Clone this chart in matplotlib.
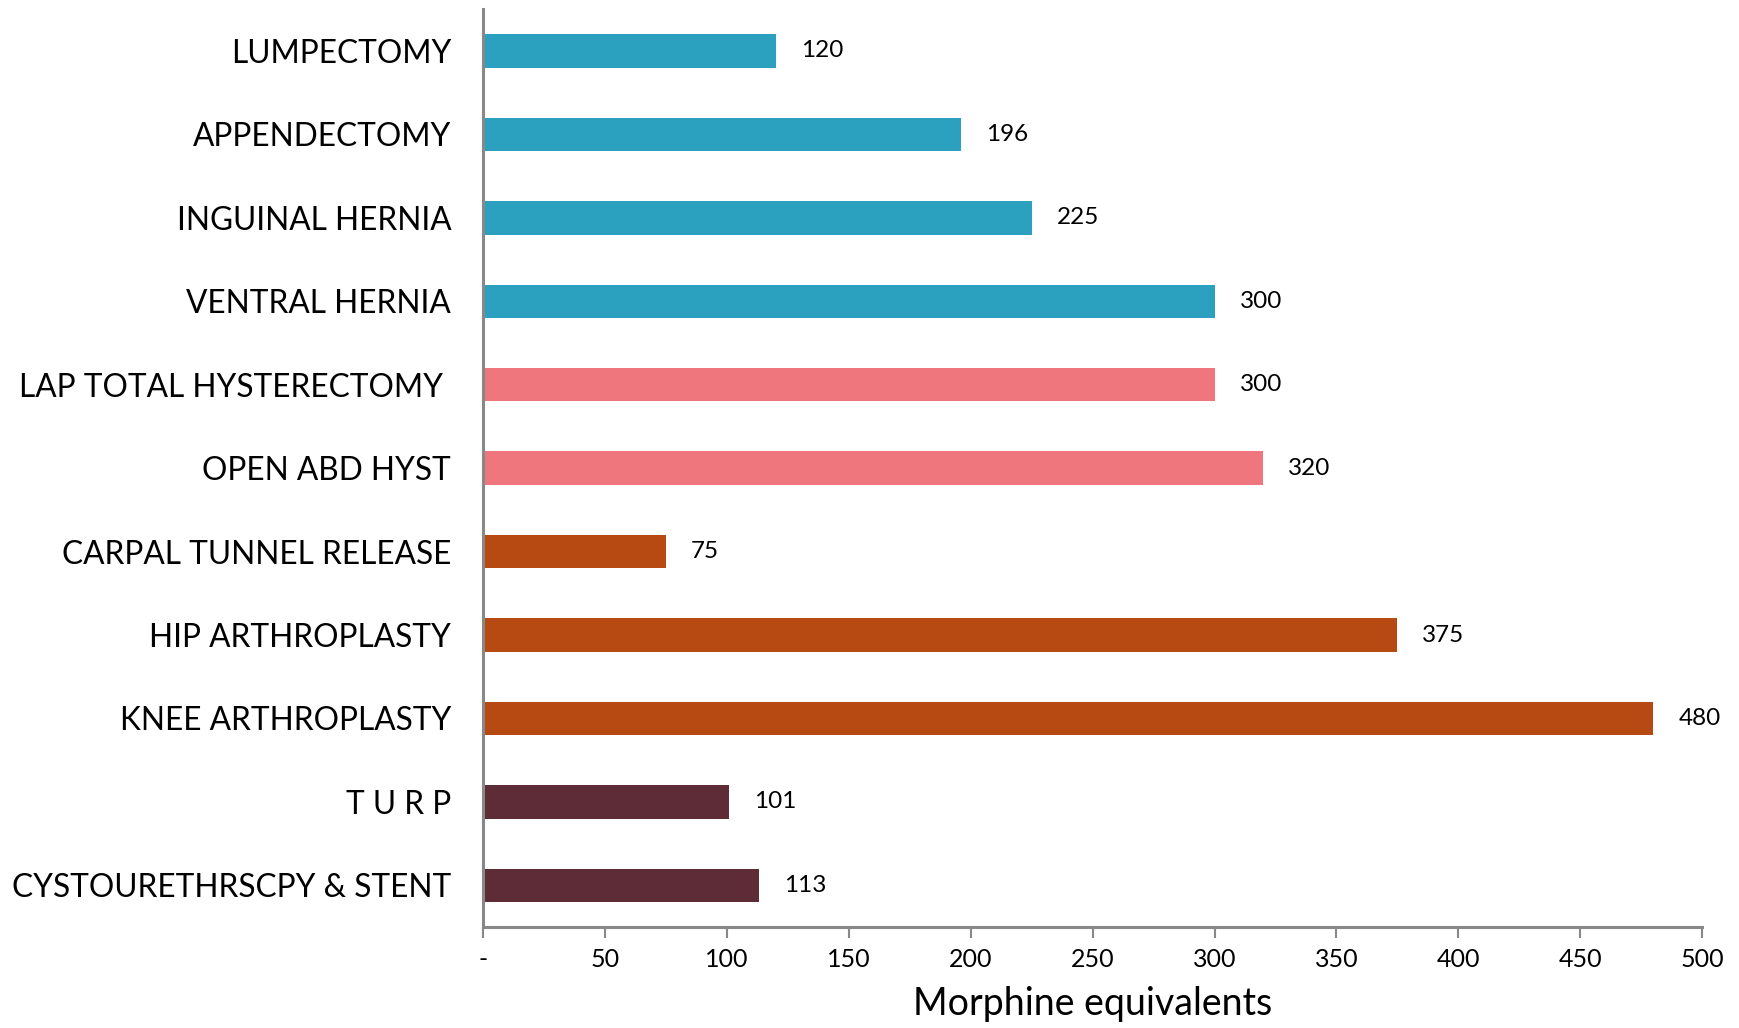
import matplotlib
matplotlib.use("Agg")
import matplotlib.pyplot as plt
from matplotlib.ticker import FuncFormatter

# Procedures, top to bottom, with morphine equivalents prescribed
procedures = [
    "LUMPECTOMY",
    "APPENDECTOMY",
    "INGUINAL HERNIA",
    "VENTRAL HERNIA",
    "LAP TOTAL HYSTERECTOMY ",
    "OPEN ABD HYST",
    "CARPAL TUNNEL RELEASE",
    "HIP ARTHROPLASTY",
    "KNEE ARTHROPLASTY",
    "T U R P",
    "CYSTOURETHRSCPY & STENT",
]
morphine = [120, 196, 225, 300, 300, 320, 75, 375, 480, 101, 113]
specialty = ["general", "general", "general", "general",
             "gyn", "gyn",
             "ortho", "ortho", "ortho",
             "uro", "uro"]
specialty_colors = {
    "general": "#2CA1BF",
    "gyn": "#EE767C",
    "ortho": "#B64A12",
    "uro": "#5E2C37",
}
x_ticks = [0, 50, 100, 150, 200, 250, 300, 350, 400, 450, 500]

plt.rcParams["font.family"] = ["Lato", "DejaVu Sans"]

fig = plt.figure(figsize=(17.39, 10.28), dpi=100)
ax = fig.add_axes([0.2778, 0.0982, 0.7010, 0.8928])

positions = list(range(len(procedures)))
colors = [specialty_colors[s] for s in specialty]
ax.barh(positions, morphine, height=0.4, color=colors)

# value labels just past the end of each bar
for pos, val in zip(positions, morphine):
    ax.annotate(str(val), xy=(val, pos), xytext=(18, 0),
                textcoords="offset points", va="center", ha="left",
                fontsize=17.5, color="black")

ax.set_yticks(positions)
ax.set_yticklabels(procedures, fontsize=22.8)
ax.set_ylim(len(procedures) - 0.5, -0.5)

ax.set_xlim(0, 500)
ax.set_xticks(x_ticks)
ax.xaxis.set_major_formatter(FuncFormatter(lambda v, p: "-" if v == 0 else f"{v:.0f}"))
ax.tick_params(axis="x", labelsize=18, length=8, width=1.5, color="#888888", pad=7)
ax.tick_params(axis="y", length=0, pad=23)
ax.set_xlabel("Morphine equivalents", fontsize=27, labelpad=11)

for side in ("top", "right"):
    ax.spines[side].set_visible(False)
for side in ("left", "bottom"):
    ax.spines[side].set_color("#888888")
    ax.spines[side].set_linewidth(2.2)

fig.savefig("out.png", dpi=100)
